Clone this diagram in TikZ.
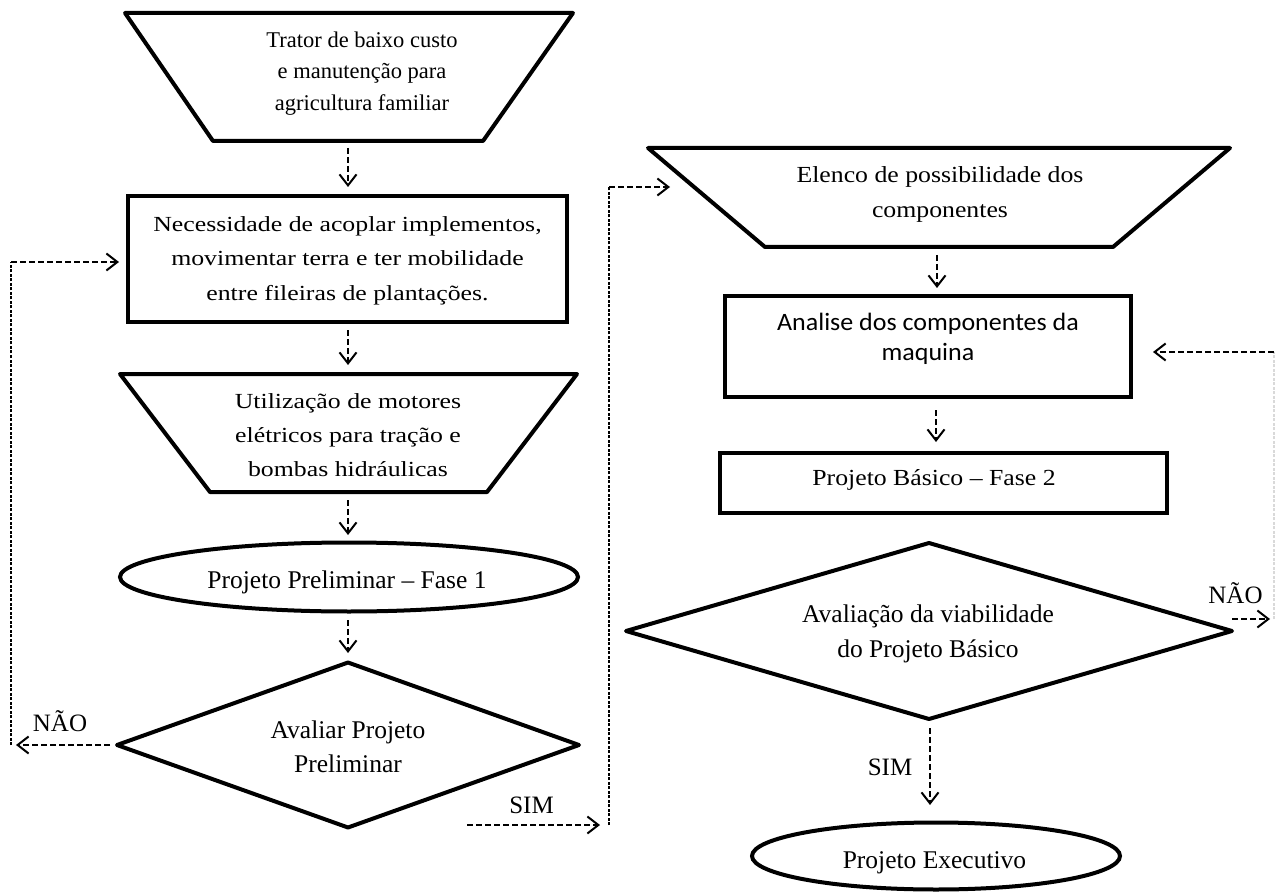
\documentclass[tikz,border=0pt]{standalone}
\usepackage{fontspec}
\setmainfont{Liberation Serif}
\newfontfamily\serifA[FakeStretch=1.2]{Liberation Serif}
\newfontfamily\serifB[FakeStretch=1.12]{Liberation Serif}
\newfontfamily\sansC[FakeStretch=1.04]{Carlito}
\usetikzlibrary{arrows.meta,shapes.geometric,calc}
\newcommand\lnup{\rule{0pt}{22pt}}
\begin{document}
\begin{tikzpicture}[x=1pt,y=-1pt,
  shp/.style={draw, line width=4pt, inner sep=0pt, outer sep=0pt},
  boxr/.style={shp, rectangle},
  ell/.style={shp, ellipse},
  dia/.style={shp, diamond, line join=round},
  trap/.style={line width=4pt, line join=round},
  conn/.style={line width=2pt, dash pattern=on 6pt off 3pt,
    -{Straight Barb[length=11pt,width=17pt,line width=2pt]}},
  vlink/.style={line width=1.3pt, dash pattern=on 3pt off 1.5pt},
  txt/.style={inner sep=0pt, anchor=north, align=center},
  txtone/.style={inner sep=0pt, anchor=base},
  fA/.style={font=\fontsize{25.5pt}{34pt}\selectfont},
  fL/.style={font=\fontsize{25pt}{30pt}\selectfont}
]
\useasboundingbox (0,0) rectangle (1277,893);

% ---------- left column shapes ----------
\draw[trap] (125,13) -- (573,13) -- (483,141) -- (213,141) -- cycle;
\coordinate (t1b) at (348,141);
\node[boxr, minimum width=439pt, minimum height=126pt] (r1) at (347.5,259) {};
\draw[trap] (120,374) -- (577,374) -- (487,492) -- (210,492) -- cycle;
\coordinate (t2t) at (348,374);
\coordinate (t2b) at (348,492);
\node[ell, minimum width=458pt, minimum height=69pt] (e1) at (349,577) {};
\node[dia, minimum width=462pt, minimum height=165pt] (d1) at (348,745) {};

% ---------- right column shapes ----------
\draw[trap] (648,148) -- (1230,148) -- (1113,247) -- (765,247) -- cycle;
\coordinate (t3b) at (937,247);
\coordinate (t3in) at (670,187);
\node[boxr, minimum width=406pt, minimum height=101pt] (r2) at (928,346.5) {};
\node[boxr, minimum width=447pt, minimum height=60pt] (r3) at (943.5,483) {};
\node[dia, minimum width=606pt, minimum height=176pt] (d2) at (929,631) {};
\node[ell, minimum width=368pt, minimum height=67pt] (e2) at (936,856) {};

% ---------- texts ----------
\node[txt, font=\fontsize{22.5pt}{31.5pt}\selectfont] (t1txt) at (362,25)
  {\lnup Trator de baixo custo\\ e manutenção para\\ agricultura familiar};
\node[txt, font=\serifA\fontsize{21.5pt}{34.5pt}\selectfont] (r1txt) at (347.5,209)
  {\lnup Necessidade de acoplar implementos,\\ movimentar terra e ter mobilidade\\ entre fileiras de plantações.};
\node[txt, font=\serifA\fontsize{21.5pt}{34pt}\selectfont] (t2txt) at (348,386)
  {\lnup Utilização de motores\\ elétricos para tração e\\ bombas hidráulicas};
\node[txtone, fA] (e1txt) at (347,588) {Projeto Preliminar – Fase 1};
\node[txt, fA] (d1txt) at (348,716) {\lnup Avaliar Projeto\\ Preliminar};
\node[txtone, fL] (naoL) at (60,731) {NÃO};
\node[txtone, fL] (simL) at (531.5,813) {SIM};

\node[txt, font=\serifB\fontsize{23pt}{35pt}\selectfont] (t3txt) at (940,160)
  {\lnup Elenco de possibilidade dos\\ componentes};
\node[txt, font=\sansC\fontsize{25pt}{30pt}\selectfont] (r2txt) at (928,308)
  {\lnup Analise dos componentes da\\ maquina};
\node[txtone, font=\serifB\fontsize{23pt}{28pt}\selectfont] (r3txt) at (934,485)
  {Projeto Básico – Fase 2};
\node[txt, font=\fontsize{25.5pt}{35pt}\selectfont] (d2txt) at (928,600)
  {\lnup Avaliação da viabilidade\\ do Projeto Básico};
\node[txtone, fL] (naoR) at (1235.5,603) {NÃO};
\node[txtone, fL] (simR) at (890,775) {SIM};
\node[txtone, fA] (e2txt) at (934.5,868) {Projeto Executivo};

% ---------- left column connectors ----------
\draw[conn, shorten <=7pt, shorten >=9pt] (t1b) -- (r1.north -| t1b);
\draw[conn, shorten <=8pt, shorten >=9pt] (r1.south -| t2t) -- (t2t);
\draw[conn, shorten <=8pt, shorten >=7.5pt] (t2b) -- (e1.north -| t2b);
\draw[conn, shorten <=8.5pt, shorten >=9.5pt] (e1.south -| d1) -- (d1.north);

% NAO loop (left)
\coordinate (lcB) at (11,745);
\coordinate (lcT) at (11,262);
\draw[conn, shorten <=7pt, shorten >=5pt] (d1.west) -- (lcB);
\draw[vlink] (lcB) -- (lcT);
\draw[conn, shorten >=9pt] (lcT) -- (lcT -| r1.west);

% SIM link (left to right column)
\coordinate (simA) at (467,825);
\coordinate (simB) at (609,825);
\coordinate (simC) at (609,187);
\draw[conn, shorten >=9pt] (simA) -- (simB);
\draw[vlink] (simB) -- (simC);
\draw[conn] (simC) -- (t3in);

% ---------- right column connectors ----------
\draw[conn, shorten <=8pt, shorten >=8pt] (t3b) -- (t3b |- r2.north);
\draw[conn, shorten <=13pt, shorten >=11pt] ([xshift=8pt]r2.south) -- ([xshift=8pt]r2.south |- r3.north);
\draw[conn, shorten <=9pt, shorten >=17.5pt] ([xshift=1pt]d2.south) -- ([xshift=1pt]d2.south |- e2.north);

% NAO loop (right)
\coordinate (naoRa) at (1232,619);
\coordinate (rcB) at (1274,619);
\coordinate (rcT) at (1274,352);
\draw[conn, shorten >=4pt] (naoRa) -- (rcB);
\draw[vlink, gray!30] (rcB) -- (rcT);
\draw[conn, shorten >=22pt] (rcT) -- (rcT -| r2.east);
\end{tikzpicture}
\end{document}
